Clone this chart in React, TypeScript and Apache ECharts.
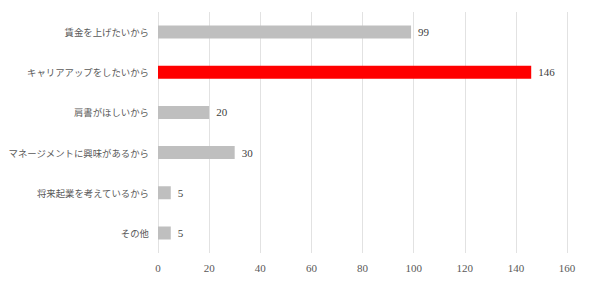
import React, { useEffect, useRef } from "react";
import * as echarts from "echarts";

const categories = [
  "賃金を上げたいから",
  "キャリアアップをしたいから",
  "肩書がほしいから",
  "マネージメントに興味があるから",
  "将来起業を考えているから",
  "その他",
];
const values = [99, 146, 20, 30, 5, 5];
const highlightIndex = 1;

const NUM_FONT = "'Liberation Serif', 'DejaVu Serif', serif";
const CAT_FONT = "'Noto Sans CJK JP', sans-serif";

export default function App() {
  const ref = useRef<HTMLDivElement>(null);
  useEffect(() => {
    if (!ref.current) return;
    const chart = echarts.init(ref.current, null, { renderer: "svg" });
    chart.setOption({
      animation: false,
      grid: { left: 158, right: 23, top: 12, bottom: 29, containLabel: false },
      xAxis: {
        type: "value",
        min: 0,
        max: 160,
        interval: 20,
        axisLine: { show: false },
        axisTick: { show: false },
        splitLine: { lineStyle: { color: "#e2e2e2", width: 1 } },
        axisLabel: { color: "#595959", fontSize: 11, fontFamily: NUM_FONT, margin: 9 },
      },
      yAxis: {
        type: "category",
        inverse: true,
        data: categories,
        axisLine: { show: false },
        axisTick: { show: false },
        axisLabel: { color: "#595959", fontSize: 9.4, fontFamily: CAT_FONT, margin: 9 },
      },
      series: [
        {
          type: "bar",
          barWidth: 13,
          data: values.map((v, i) => ({
            value: v,
            itemStyle: { color: i === highlightIndex ? "#ff0000" : "#bfbfbf" },
          })),
          label: {
            show: true,
            position: "right",
            distance: 7,
            color: "#404040",
            fontSize: 11,
            fontFamily: NUM_FONT,
          },
        },
      ],
    });
    return () => chart.dispose();
  }, []);
  return <div ref={ref} style={{ width: 590, height: 282, margin: -8 }} />;
}
